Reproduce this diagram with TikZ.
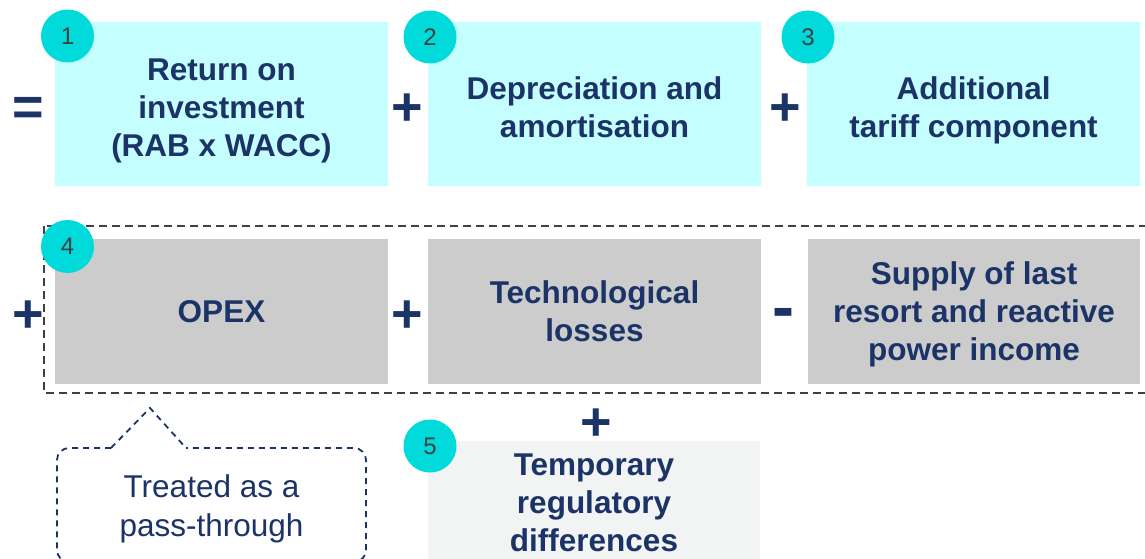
\documentclass[tikz,border=0pt]{standalone}
\usepackage{fontspec}
\setmainfont{Liberation Sans}
\definecolor{boxcyan}{HTML}{C4FEFF}
\definecolor{numcyan}{HTML}{00DADB}
\definecolor{navy}{HTML}{1B3366}
\definecolor{boxgray}{HTML}{CCCCCC}
\definecolor{boxlight}{HTML}{F2F3F3}
\definecolor{numtext}{HTML}{404040}
\newcommand\topstrut{\rule{0pt}{28pt}}
\begin{document}
\begin{tikzpicture}[
x=1pt,y=-1pt,
term/.style={minimum width=333pt,align=center,text=navy,inner sep=0pt,
  text depth=0pt,font=\fontsize{31.5}{38}\selectfont\bfseries},
topterm/.style={term,fill=boxcyan,minimum height=164pt},
costterm/.style={term,fill=boxgray,minimum height=145pt},
extraterm/.style={term,fill=boxlight,minimum height=124pt},
num/.style={circle,fill=numcyan,minimum size=53pt,inner sep=0pt,text=numtext,
  font=\fontsize{24}{24}\selectfont},
op/.style={text=navy,inner sep=0pt,font=\fontsize{54}{54}\selectfont\bfseries}
]
\clip (0,0) rectangle (1145,559);
\node[topterm] (ret) at (221.5,104) {\topstrut Return on\\investment\\(RAB x WACC)};
\node[topterm] (dep) at (594.5,104) {\topstrut Depreciation and\\amortisation};
\node[topterm] (add) at (973.5,104) {\topstrut Additional\\tariff component};
\node[costterm] (opex) at (221.5,311.5) {OPEX};
\node[costterm] (loss) at (594.5,311.5) {Technological\\losses};
\node[costterm, minimum width=332pt] (sup) at (974,311.5) {Supply of last\\resort and reactive\\power income};
\node[extraterm, minimum width=332pt] (temp) at (594,503) {Temporary\\regulatory\\differences};
\draw[numtext,line width=2pt,dash pattern=on 8pt off 5pt] (44,226) rectangle (1150,393);
\node[num] (n1) at (67.5,36) {1};
\node[num] (n2) at (430,37) {2};
\node[num] (n3) at (808,37) {3};
\node[num] (n4) at (67.5,246.5) {4};
\node[num] (n5) at (430,446) {5};
\node[op] (eq) at (28,111) {=};
\node[op] (p1) at (407,110) {+};
\node[op] (p2) at (785,110) {+};
\node[op] (p3) at (28,317) {+};
\node[op] (p4) at (407,317) {+};
\node[op, font=\fontsize{66}{66}\selectfont\bfseries] (m1) at (783.5,318.5) {-};
\node[op] (p5) at (596,425) {+};
\draw[navy,line width=1.8pt,dash pattern=on 6pt off 5pt,rounded corners=12pt]
  (111,448) -- (57,448) -- (57,562) -- (366,562) -- (366,448) -- (186,448);
\draw[navy,line width=1.8pt,dash pattern=on 6pt off 5pt] (111,448) -- (150,408) -- (186,448);
\node[text=navy,align=center,text depth=0pt,
  font=\fontsize{31.5}{39}\selectfont] (note) at (211.5,506) {Treated as a\\pass-through};
\end{tikzpicture}
\end{document}
